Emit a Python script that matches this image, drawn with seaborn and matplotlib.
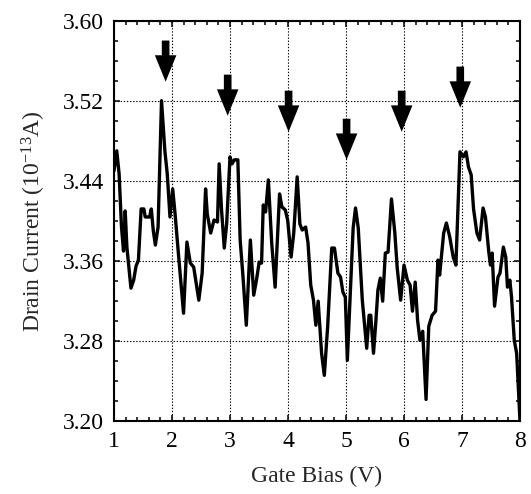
import matplotlib
matplotlib.use("Agg")
import matplotlib.pyplot as plt
import seaborn as sns
import pandas as pd
from matplotlib.ticker import MultipleLocator

gate_bias = [1.000, 1.047, 1.088, 1.129, 1.164, 1.193, 1.222, 1.292, 1.339, 1.380,
             1.421, 1.468, 1.515, 1.538, 1.614, 1.643, 1.678, 1.713, 1.760, 1.819,
             1.877, 1.918, 1.965, 2.012, 2.053, 2.111, 2.199, 2.257, 2.316, 2.374,
             2.462, 2.520, 2.579, 2.608, 2.667, 2.725, 2.784, 2.813, 2.854, 2.901,
             2.942, 3.000, 3.035, 3.076, 3.135, 3.175, 3.222, 3.281, 3.351, 3.409,
             3.456, 3.503, 3.544, 3.573, 3.614, 3.661, 3.719, 3.778, 3.854, 3.895,
             3.953, 3.994, 4.053, 4.099, 4.158, 4.205, 4.246, 4.304, 4.345, 4.392,
             4.439, 4.480, 4.520, 4.579, 4.626, 4.684, 4.754, 4.801, 4.860, 4.906,
             4.947, 4.988, 5.023, 5.064, 5.123, 5.164, 5.211, 5.281, 5.357, 5.398,
             5.427, 5.474, 5.515, 5.550, 5.591, 5.632, 5.678, 5.725, 5.784, 5.842,
             5.883, 5.942, 6.000, 6.058, 6.105, 6.146, 6.193, 6.234, 6.275, 6.322,
             6.380, 6.427, 6.485, 6.544, 6.585, 6.614, 6.684, 6.731, 6.789, 6.848,
             6.895, 6.965, 7.023, 7.070, 7.111, 7.158, 7.199, 7.257, 7.304, 7.363,
             7.404, 7.462, 7.491, 7.520, 7.561, 7.620, 7.655, 7.713, 7.754, 7.784,
             7.825, 7.854, 7.901, 7.942, 8.000]

drain_current = [3.450, 3.470, 3.447, 3.394, 3.370, 3.410, 3.374, 3.333, 3.341, 3.355,
                 3.361, 3.412, 3.412, 3.404, 3.404, 3.412, 3.390, 3.376, 3.394, 3.520,
                 3.470, 3.447, 3.404, 3.432, 3.407, 3.367, 3.308, 3.379, 3.358, 3.354,
                 3.321, 3.348, 3.432, 3.407, 3.388, 3.401, 3.399, 3.457, 3.411, 3.373,
                 3.397, 3.464, 3.457, 3.461, 3.461, 3.381, 3.346, 3.296, 3.381, 3.326,
                 3.341, 3.359, 3.358, 3.416, 3.409, 3.441, 3.378, 3.334, 3.427, 3.414,
                 3.411, 3.401, 3.364, 3.388, 3.444, 3.397, 3.391, 3.394, 3.378, 3.336,
                 3.321, 3.296, 3.320, 3.268, 3.246, 3.295, 3.373, 3.373, 3.348, 3.344,
                 3.329, 3.324, 3.261, 3.315, 3.393, 3.413, 3.393, 3.321, 3.273, 3.306,
                 3.306, 3.268, 3.300, 3.331, 3.343, 3.320, 3.368, 3.369, 3.422, 3.388,
                 3.353, 3.321, 3.356, 3.341, 3.336, 3.310, 3.339, 3.301, 3.281, 3.290,
                 3.222, 3.295, 3.306, 3.310, 3.361, 3.346, 3.388, 3.398, 3.384, 3.364,
                 3.356, 3.469, 3.464, 3.469, 3.454, 3.446, 3.412, 3.388, 3.381, 3.413,
                 3.404, 3.369, 3.356, 3.368, 3.315, 3.344, 3.348, 3.374, 3.364, 3.334,
                 3.341, 3.324, 3.281, 3.268, 3.200]

arrow_x = [1.89, 2.96, 4.01, 5.01, 5.96, 6.97]
arrow_tip = [3.539, 3.505, 3.489, 3.461, 3.489, 3.513]
arrow_len = 0.041

x_ticks = [1, 2, 3, 4, 5, 6, 7, 8]
y_ticks = [3.20, 3.28, 3.36, 3.44, 3.52, 3.60]

sns.set_style("white")
plt.rcParams['font.family'] = ['Liberation Serif', 'DejaVu Serif']
plt.rcParams['mathtext.fontset'] = 'custom'
plt.rcParams['mathtext.rm'] = 'Liberation Serif'
plt.rcParams['mathtext.it'] = 'Liberation Serif:italic'

fig = plt.figure(figsize=(5.31, 4.94), dpi=100)
ax = fig.add_axes([0.2147, 0.1468, 0.9793 - 0.2147, 0.9585 - 0.1468])

df = pd.DataFrame({"x": gate_bias, "y": drain_current})
sns.lineplot(data=df, x="x", y="y", ax=ax, color="black", linewidth=2.4, sort=False)

for xa, yt in zip(arrow_x, arrow_tip):
    ax.annotate("", xy=(xa, yt), xytext=(xa, yt + arrow_len),
                arrowprops=dict(arrowstyle="simple,head_length=1.9,head_width=1.55,tail_width=0.55",
                                mutation_scale=10, color="black", shrinkA=0, shrinkB=0, lw=0))

ax.set_xlim(1, 8)
ax.set_ylim(3.20, 3.60)
ax.set_xticks(x_ticks)
ax.set_yticks(y_ticks)
ax.set_xticklabels([str(t) for t in x_ticks])
ax.set_yticklabels([f"{t:.2f}" for t in y_ticks])
ax.xaxis.set_minor_locator(MultipleLocator(0.2))
ax.yaxis.set_minor_locator(MultipleLocator(0.02))
ax.tick_params(which="both", direction="in", top=True, right=True, bottom=True, left=True,
               color="black", width=1.1)
ax.tick_params(which="major", length=4.5, labelsize=17, pad=7, labelcolor="black")
ax.tick_params(which="minor", length=3)
ax.grid(True, which="major", linestyle=(0, (1.2, 1.6)), color="black", linewidth=0.8)
for s in ax.spines.values():
    s.set_color("black")
    s.set_linewidth(1.5)

ax.set_xlabel("Gate Bias (V)", fontsize=17, labelpad=10)
ax.set_ylabel(r"Drain Current (10$^{-13}$A)", fontsize=17, labelpad=11)

fig.savefig("out.png", dpi=100)
